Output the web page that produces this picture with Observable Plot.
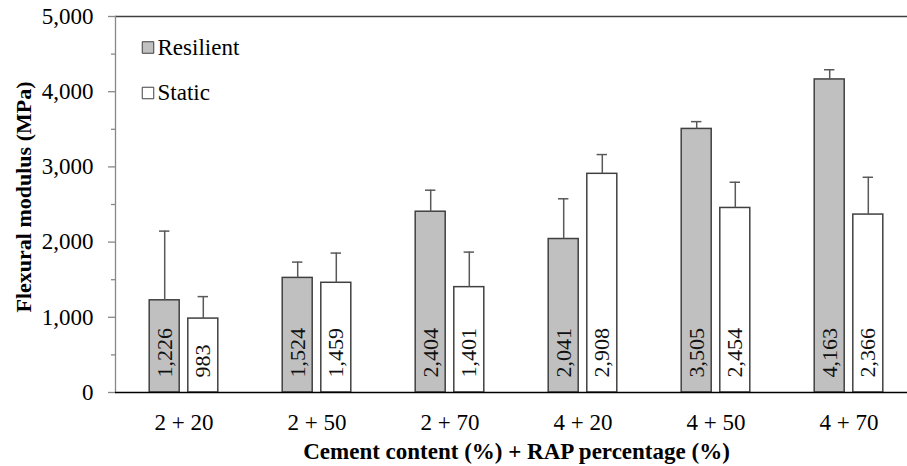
<!DOCTYPE html>
<html>
<head>
<meta charset="utf-8">
<script src="https://cdn.jsdelivr.net/npm/d3@7"></script>
<script src="https://cdn.jsdelivr.net/npm/@observablehq/plot@0.6"></script>
<style>
  html, body { margin: 0; padding: 0; background: #fff; }
  #chart svg { display: block; overflow: visible; }
  #chart svg text { font-family: 'Liberation Serif', 'Times New Roman', serif; }
</style>
</head>
<body>
<div id="chart"></div>
<script>
const groups = ["2 + 20", "2 + 50", "2 + 70", "4 + 20", "4 + 50", "4 + 70"];
const seriesNames = ["Resilient", "Static"];
const resilientValues = [1226, 1524, 2404, 2041, 3505, 4163];
const staticValues = [983, 1459, 1401, 2908, 2454, 2366];
const resilientErrors = [920, 210, 286, 535, 97, 129];
const staticErrors = [292, 395, 466, 256, 342, 496];
const yMajorTicks = [0, 1000, 2000, 3000, 4000, 5000];
const yMinorTicks = [500, 1500, 2500, 3500, 4500];
const yTitle = "Flexural modulus (MPa)";
const xTitle = "Cement content (%) + RAP percentage (%)";

const rows = [
  ...groups.map((g, i) => ({group: g, series: seriesNames[0], value: resilientValues[i], err: resilientErrors[i]})),
  ...groups.map((g, i) => ({group: g, series: seriesNames[1], value: staticValues[i], err: staticErrors[i]}))
];
const resRows = rows.filter(d => d.series === seriesNames[0]);
const staRows = rows.filter(d => d.series === seriesNames[1]);

const FONT = "'Liberation Serif', 'Times New Roman', serif";
const fmt = d3.format(",");
const OFF = 19.3;       // half distance between the two bars of a group
const BAR_INSET = 51.5; // makes bars ~30.5px wide in a 133.6px band
const CAP_INSET = 61.3; // error bar cap ~11px
const BAR_FILL = "#c0c0c0";
const BAR_STROKE = "#404040";
const ERR_STROKE = "#595959";

function seriesMarks(data, dx, fill) {
  return [
    Plot.barY(data, {x: "group", y: "value", dx, insetLeft: BAR_INSET, insetRight: BAR_INSET,
      fill, stroke: BAR_STROKE, strokeWidth: 1.5}),
    Plot.ruleX(data, {x: "group", y1: "value", y2: d => d.value + d.err, dx, stroke: ERR_STROKE, strokeWidth: 1.5}),
    Plot.tickY(data, {x: "group", y: d => d.value + d.err, dx, insetLeft: CAP_INSET, insetRight: CAP_INSET,
      stroke: ERR_STROKE, strokeWidth: 1.5}),
    Plot.text(data, {x: "group", frameAnchor: "bottom", text: d => fmt(d.value), rotate: -90,
      textAnchor: "start", lineAnchor: "middle", dx, dy: -15, fontSize: 22, fontFamily: FONT, fill: "#111"})
  ];
}

const chart = Plot.plot({
  width: 907,
  height: 466,
  marginLeft: 115,
  marginRight: 0,
  marginTop: 16,
  marginBottom: 74,
  style: {fontFamily: FONT, fontSize: "23px", color: "#000", background: "#fff"},
  x: {domain: groups, range: [115, 916.6], padding: 0, axis: null},
  y: {domain: [0, 5000], axis: null},
  marks: [
    Plot.ruleY([5000], {stroke: "#404040", strokeWidth: 1.3}),
    Plot.frame({anchor: "left", stroke: "#888", strokeWidth: 1.3}),
    Plot.axisY({ticks: yMinorTicks, tickSize: 4, tickFormat: () => "", stroke: "#888", strokeWidth: 1.3, label: null}),
    Plot.axisY({ticks: yMajorTicks, tickSize: 7, tickPadding: 15, tickFormat: fmt, stroke: "#888", strokeWidth: 1.3,
      fill: "#000", fontSize: 23, fontFamily: FONT, label: null}),
    Plot.axisX({tickSize: 0, tickPadding: 21, fontSize: 23, fontFamily: FONT, fill: "#000", label: null}),
    ...seriesMarks(resRows, -OFF, BAR_FILL),
    ...seriesMarks(staRows, OFF, "#fff"),
    Plot.ruleY([0], {stroke: "#000", strokeWidth: 1.4}),
    // legend
    Plot.dot([seriesNames[0]], {frameAnchor: "top-left", dx: 32.5, dy: 31, symbol: "square", r: 6.5,
      fill: BAR_FILL, stroke: BAR_STROKE, strokeWidth: 1}),
    Plot.text([seriesNames[0]], {frameAnchor: "top-left", dx: 42, dy: 31, textAnchor: "start", lineAnchor: "middle",
      fontSize: 23, fontFamily: FONT}),
    Plot.dot([seriesNames[1]], {frameAnchor: "top-left", dx: 32.5, dy: 76.5, symbol: "square", r: 6.5,
      fill: "#fff", stroke: BAR_STROKE, strokeWidth: 1}),
    Plot.text([seriesNames[1]], {frameAnchor: "top-left", dx: 42, dy: 76.5, textAnchor: "start", lineAnchor: "middle",
      fontSize: 23, fontFamily: FONT}),
    // axis titles
    Plot.text([yTitle], {frameAnchor: "left", dx: -92, dy: -7.5, rotate: -90, textAnchor: "middle", lineAnchor: "middle",
      fontWeight: "bold", fontSize: 22, fontFamily: FONT}),
    Plot.text([xTitle], {frameAnchor: "bottom", dx: 5, dy: 59, textAnchor: "middle", lineAnchor: "middle",
      fontWeight: "bold", fontSize: 23, fontFamily: FONT})
  ]
});
document.getElementById("chart").appendChild(chart);
</script>
</body>
</html>
